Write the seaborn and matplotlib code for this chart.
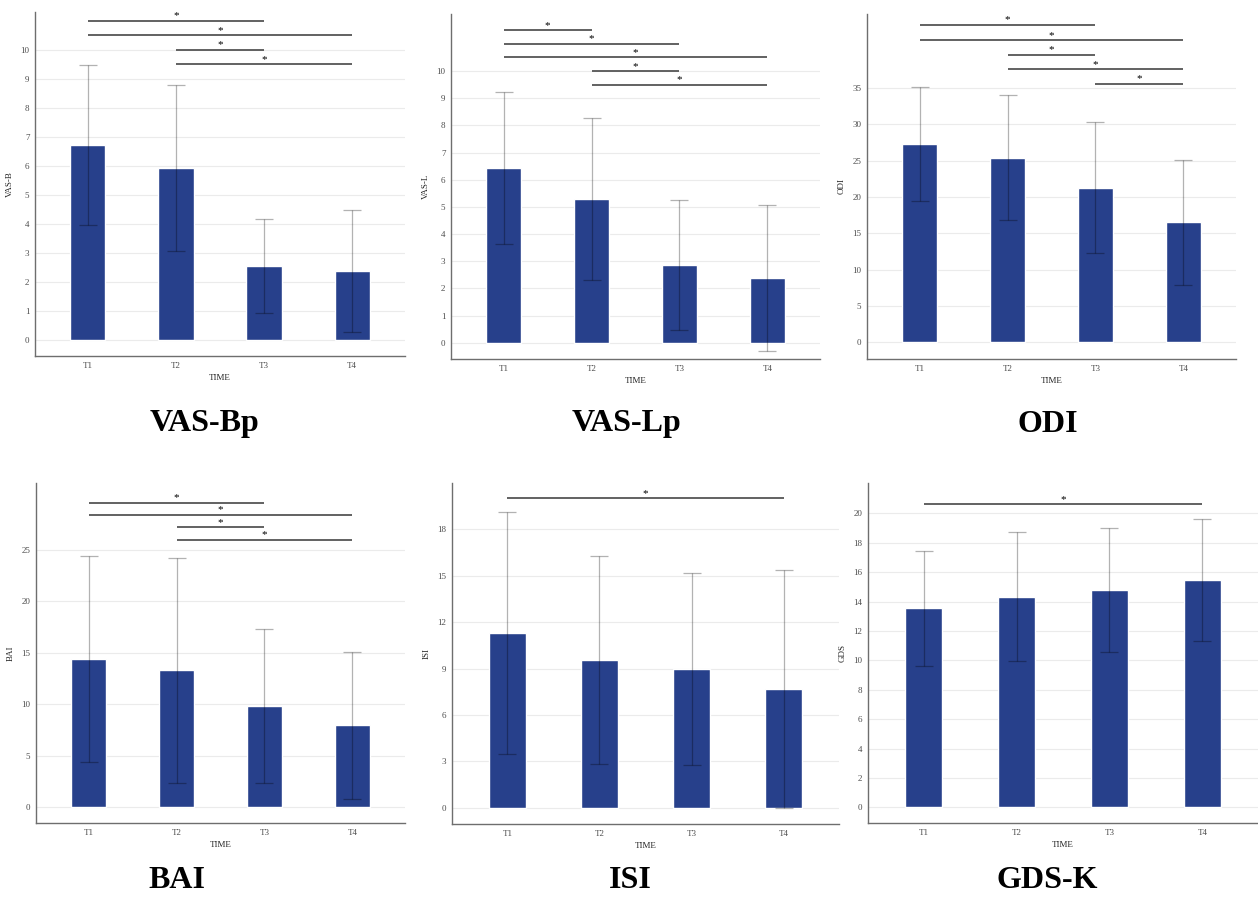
import matplotlib
matplotlib.use("Agg")
import matplotlib.pyplot as plt
import seaborn as sns
import pandas as pd

# time points
times = ["T1", "T2", "T3", "T4"]

# mean and sd per score
vasb_mean = [6.72, 5.93, 2.55, 2.37]
vasb_sd = [2.76, 2.86, 1.61, 2.10]
vasl_mean = [6.43, 5.28, 2.87, 2.39]
vasl_sd = [2.80, 2.99, 2.39, 2.69]
odi_mean = [27.3, 25.4, 21.3, 16.5]
odi_sd = [7.9, 8.6, 9.0, 8.6]
bai_mean = [14.38, 13.28, 9.81, 7.93]
bai_sd = [10.0, 10.9, 7.45, 7.1]
isi_mean = [11.3, 9.55, 8.97, 7.69]
isi_sd = [7.8, 6.7, 6.2, 7.7]
gds_mean = [13.54, 14.34, 14.77, 15.45]
gds_sd = [3.9, 4.4, 4.2, 4.15]

# significant pairs: (from, to, bracket height)
vasb_sig = [(0, 2, 11.0), (0, 3, 10.5), (1, 2, 10.0), (1, 3, 9.5)]
vasl_sig = [(0, 1, 11.5), (0, 2, 11.0), (0, 3, 10.5), (1, 2, 10.0), (1, 3, 9.5)]
odi_sig = [(0, 2, 43.7), (0, 3, 41.6), (1, 2, 39.6), (1, 3, 37.6), (2, 3, 35.6)]
bai_sig = [(0, 2, 29.6), (0, 3, 28.4), (1, 2, 27.2), (1, 3, 26.0)]
isi_sig = [(0, 3, 20.0)]
gds_sig = [(0, 3, 20.6)]

W, H = 1258, 902
BAR_COLOR = "#27408B"

sns.set_theme(style="white")
plt.rcParams["font.family"] = ["Liberation Serif", "DejaVu Serif"]

fig = plt.figure(figsize=(W / 100, H / 100), dpi=100)
fig.patch.set_facecolor("white")

# panel settings: (ylabel, title, means, sds, sig, yticks, ylim, axes box px (l, r, t, b), title pos px)
panels = [
    ("VAS-B", "VAS-Bp", vasb_mean, vasb_sd, vasb_sig, range(0, 11, 1), (-0.55, 11.3), (35, 405, 12, 356), (205, 424)),
    ("VAS-L", "VAS-Lp", vasl_mean, vasl_sd, vasl_sig, range(0, 11, 1), (-0.6, 12.1), (451, 820, 14, 359), (627, 424)),
    ("ODI", "ODI", odi_mean, odi_sd, odi_sig, range(0, 36, 5), (-2.3, 45.2), (867, 1236, 14, 359), (1048, 424)),
    ("BAI", "BAI", bai_mean, bai_sd, bai_sig, range(0, 26, 5), (-1.55, 31.5), (36, 405, 483, 823), (177, 880)),
    ("ISI", "ISI", isi_mean, isi_sd, isi_sig, range(0, 19, 3), (-1.05, 21.0), (452, 839, 483, 824), (630, 880)),
    ("GDS", "GDS-K", gds_mean, gds_sd, gds_sig, range(0, 21, 2), (-1.06, 22.06), (868, 1258, 483, 823), (1047, 880)),
]

for ylab, title, means, sds, sig, yticks, ylim, box, tpos in panels:
    l, r, t, b = box
    ax = fig.add_axes([l / W, 1 - b / H, (r - l) / W, (b - t) / H])
    df = pd.DataFrame({"TIME": times, "value": means})

    ax.set_axisbelow(True)
    for yt in yticks:
        ax.axhline(yt, color="#ebebeb", lw=0.8, zorder=0)

    sns.barplot(data=df, x="TIME", y="value", color=BAR_COLOR, width=0.4,
                saturation=1, errorbar=None, ax=ax, zorder=2)
    ax.errorbar(range(len(times)), means, yerr=sds, fmt="none", ecolor="black",
                alpha=0.3, elinewidth=0.9, capsize=6.8, capthick=0.9, zorder=3)

    for i, j, y in sig:
        ax.plot([i, j], [y, y], color="#555555", lw=1.3, zorder=4, solid_capstyle="butt")
        ax.annotate("*", ((i + j) / 2, y), xytext=(0, 0.3), textcoords="offset points",
                    ha="center", va="bottom", fontsize=8, color="black")

    ax.set_xlim(-0.6, 3.6)
    ax.set_ylim(*ylim)
    ax.set_yticks(list(yticks))
    ax.set_xlabel("TIME", fontsize=6.5, labelpad=3)
    ax.set_ylabel(ylab, fontsize=6.5, labelpad=5)
    ax.tick_params(axis="both", labelsize=6.5, colors="#4d4d4d", length=2, width=0.6, pad=2)
    ax.tick_params(axis="both", labelcolor="#4d4d4d")
    for s in ["top", "right"]:
        ax.spines[s].set_visible(False)
    for s in ["left", "bottom"]:
        ax.spines[s].set_color("#6e6e6e")
        ax.spines[s].set_linewidth(1.0)

    fig.text(tpos[0] / W, 1 - tpos[1] / H, title, ha="center", va="center",
             fontsize=23, fontweight="bold", color="black")

fig.savefig("out.png", dpi=100, facecolor="white")
